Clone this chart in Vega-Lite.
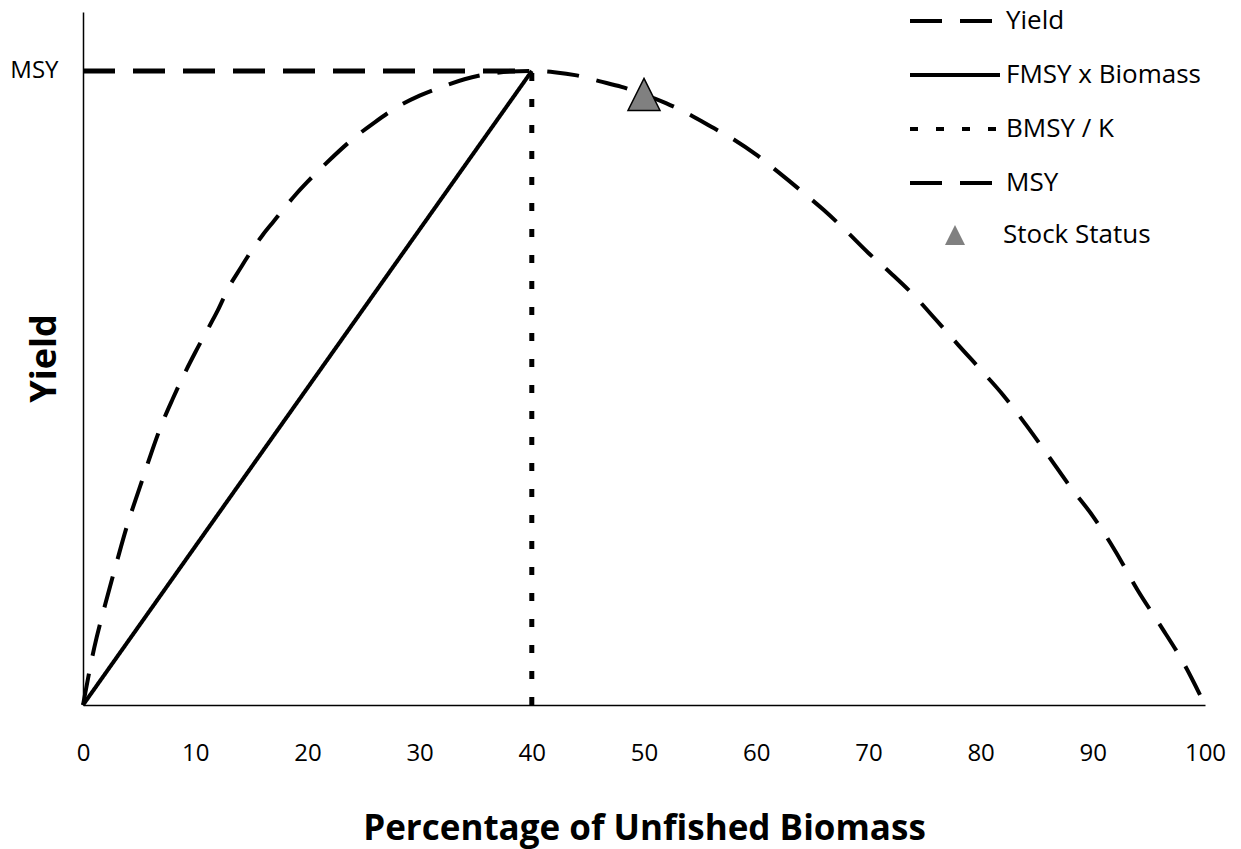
{
  "$schema": "https://vega.github.io/schema/vega-lite/v6.json",
  "width": 1122,
  "height": 693,
  "autosize": {"type": "none"},
  "padding": {"left": 83, "top": 12, "right": 36, "bottom": 144},
  "background": "white",
  "config": {"view": {"stroke": null}, "font": "Open Sans"},
  "data": {"values": [
    {"series": "Yield", "x": 0, "y": 0},
    {"series": "Yield", "x": 1, "y": 0.09},
    {"series": "Yield", "x": 2, "y": 0.16},
    {"series": "Yield", "x": 3, "y": 0.225},
    {"series": "Yield", "x": 4, "y": 0.287},
    {"series": "Yield", "x": 5, "y": 0.34},
    {"series": "Yield", "x": 6, "y": 0.393},
    {"series": "Yield", "x": 7, "y": 0.442},
    {"series": "Yield", "x": 8, "y": 0.483},
    {"series": "Yield", "x": 9, "y": 0.521},
    {"series": "Yield", "x": 10, "y": 0.556},
    {"series": "Yield", "x": 11, "y": 0.589},
    {"series": "Yield", "x": 12, "y": 0.622},
    {"series": "Yield", "x": 13, "y": 0.659},
    {"series": "Yield", "x": 14, "y": 0.688},
    {"series": "Yield", "x": 15, "y": 0.716},
    {"series": "Yield", "x": 16, "y": 0.741},
    {"series": "Yield", "x": 17, "y": 0.763},
    {"series": "Yield", "x": 18, "y": 0.785},
    {"series": "Yield", "x": 19, "y": 0.806},
    {"series": "Yield", "x": 20, "y": 0.825},
    {"series": "Yield", "x": 22, "y": 0.860},
    {"series": "Yield", "x": 24, "y": 0.892},
    {"series": "Yield", "x": 26, "y": 0.919},
    {"series": "Yield", "x": 28, "y": 0.943},
    {"series": "Yield", "x": 30, "y": 0.961},
    {"series": "Yield", "x": 32, "y": 0.975},
    {"series": "Yield", "x": 34, "y": 0.987},
    {"series": "Yield", "x": 36, "y": 0.995},
    {"series": "Yield", "x": 38, "y": 0.999},
    {"series": "Yield", "x": 40, "y": 1.0},
    {"series": "Yield", "x": 42, "y": 0.998},
    {"series": "Yield", "x": 44, "y": 0.993},
    {"series": "Yield", "x": 46, "y": 0.984},
    {"series": "Yield", "x": 48, "y": 0.975},
    {"series": "Yield", "x": 50, "y": 0.963},
    {"series": "Yield", "x": 52, "y": 0.949},
    {"series": "Yield", "x": 54, "y": 0.932},
    {"series": "Yield", "x": 56, "y": 0.912},
    {"series": "Yield", "x": 58, "y": 0.892},
    {"series": "Yield", "x": 60, "y": 0.868},
    {"series": "Yield", "x": 62, "y": 0.840},
    {"series": "Yield", "x": 64, "y": 0.811},
    {"series": "Yield", "x": 66, "y": 0.781},
    {"series": "Yield", "x": 68, "y": 0.748},
    {"series": "Yield", "x": 70, "y": 0.713},
    {"series": "Yield", "x": 72, "y": 0.681},
    {"series": "Yield", "x": 74, "y": 0.647},
    {"series": "Yield", "x": 76, "y": 0.608},
    {"series": "Yield", "x": 78, "y": 0.568},
    {"series": "Yield", "x": 80, "y": 0.529},
    {"series": "Yield", "x": 82, "y": 0.489},
    {"series": "Yield", "x": 84, "y": 0.443},
    {"series": "Yield", "x": 86, "y": 0.394},
    {"series": "Yield", "x": 88, "y": 0.344},
    {"series": "Yield", "x": 90, "y": 0.298},
    {"series": "Yield", "x": 92, "y": 0.243},
    {"series": "Yield", "x": 94, "y": 0.181},
    {"series": "Yield", "x": 96, "y": 0.126},
    {"series": "Yield", "x": 98, "y": 0.069},
    {"series": "Yield", "x": 100, "y": 0},
    {"series": "FMSY x Biomass", "x": 0, "y": 0},
    {"series": "FMSY x Biomass", "x": 40, "y": 1},
    {"series": "BMSY / K", "x": 40, "y": 0},
    {"series": "BMSY / K", "x": 40, "y": 1},
    {"series": "MSY", "x": 0, "y": 1},
    {"series": "MSY", "x": 40, "y": 1},
    {"series": "Stock Status", "x": 50, "y": 0.963}
  ]},
  "encoding": {
    "x": {
      "field": "x", "type": "quantitative",
      "scale": {"domain": [0, 100], "nice": false},
      "axis": {
        "values": [0, 10, 20, 30, 40, 50, 60, 70, 80, 90, 100],
        "ticks": false, "tickSize": 0, "grid": false,
        "labelPadding": 36, "labelFont": "Open Sans", "labelFontSize": 24, "labelColor": "black", "labelFlush": false,
        "domainColor": "black", "domainWidth": 1.5,
        "title": "Percentage of Unfished Biomass",
        "titleFont": "Open Sans", "titleFontSize": 35, "titleFontWeight": "bold", "titleColor": "black",
        "titleBaseline": "alphabetic", "titleY": 134, "titleX": 561
      }
    },
    "y": {
      "field": "y", "type": "quantitative",
      "scale": {"domain": [0, 1.093], "nice": false},
      "axis": {
        "values": [1], "labelExpr": "'MSY'",
        "ticks": false, "tickSize": 0, "grid": false,
        "labelPadding": 25, "labelFont": "Open Sans", "labelFontSize": 24, "labelColor": "black",
        "domainColor": "black", "domainWidth": 1.5,
        "title": "Yield",
        "titleFont": "Open Sans", "titleFontSize": 36, "titleFontWeight": "bold", "titleColor": "black",
        "titleBaseline": "alphabetic", "titleAlign": "center", "titleAngle": -90, "titleX": -28, "titleY": 346
      }
    }
  },
  "layer": [
    {
      "transform": [{"filter": "datum.series == 'Yield' || datum.series == 'FMSY x Biomass'"}],
      "mark": {"type": "line", "strokeWidth": 4, "interpolate": "monotone"},
      "encoding": {
        "color": {
          "field": "series", "type": "nominal",
          "scale": {"domain": ["Yield", "FMSY x Biomass", "BMSY / K", "MSY"], "range": ["black", "black", "black", "black"]},
          "legend": {"title": null, "orient": "none", "legendX": 855, "legendY": -8, "direction": "vertical",
            "symbolType": "M-3,0L3,0", "symbolSize": 900, "symbolStrokeWidth": 4, "symbolStrokeColor": "black",
            "labelFont": "Open Sans", "labelFontSize": 26, "labelColor": "black", "labelOffset": 34, "labelLimit": 0, "rowPadding": 24, "padding": 0}
        },
        "strokeDash": {
          "field": "series", "type": "nominal",
          "scale": {"domain": ["Yield", "FMSY x Biomass", "BMSY / K", "MSY"], "range": [[32, 18], [1, 0], [8, 18], [32, 18]]},
          "legend": {"title": null, "orient": "none", "legendX": 855, "legendY": -8, "direction": "vertical",
            "symbolType": "M-3,0L3,0", "symbolSize": 900, "symbolStrokeWidth": 4, "symbolStrokeColor": "black",
            "labelFont": "Open Sans", "labelFontSize": 26, "labelColor": "black", "labelOffset": 34, "labelLimit": 0, "rowPadding": 24, "padding": 0}
        }
      }
    },
    {
      "transform": [{"filter": "datum.series == 'BMSY / K' || datum.series == 'MSY'"}],
      "mark": {"type": "line", "strokeWidth": 5},
      "encoding": {
        "color": {"field": "series", "type": "nominal"},
        "strokeDash": {"field": "series", "type": "nominal"}
      }
    },
    {
      "transform": [{"filter": "datum.series == 'Stock Status'"}],
      "mark": {"type": "point", "filled": true, "fill": "#808080", "stroke": "black", "strokeWidth": 1.5, "size": 1024, "opacity": 1},
      "encoding": {
        "shape": {
          "field": "series", "type": "nominal",
          "scale": {"domain": ["Stock Status"], "range": ["M0,-1L1,1L-1,1Z"]},
          "legend": {"title": null, "orient": "none", "legendX": 859, "legendY": 210, "direction": "vertical",
            "symbolSize": 400, "symbolFillColor": "#808080", "symbolStrokeColor": "black", "symbolStrokeWidth": 1.5, "symbolOpacity": 1,
            "labelFont": "Open Sans", "labelFontSize": 26, "labelColor": "black", "labelOffset": 35, "labelLimit": 0, "padding": 0}
        }
      }
    }
  ]
}
